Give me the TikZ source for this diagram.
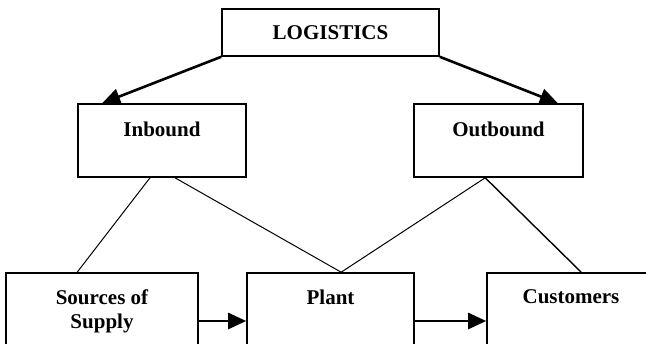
\documentclass[tikz,border=0pt]{standalone}
\usepackage{fontspec}
\setmainfont{Liberation Serif}
\usetikzlibrary{arrows.meta,calc}
\begin{document}
\begin{tikzpicture}[x=1pt,y=-1pt,
  box/.style={draw=black,line width=1.6pt,rectangle,inner sep=0pt},
  lbl/.style={inner sep=0pt,font=\fontsize{21}{26}\selectfont\bfseries},
  bigarrow/.style={line width=2.6pt,-{Triangle[length=18pt,width=16pt]}},
  thin/.style={line width=1pt}]
\useasboundingbox (0,0) rectangle (646,344);
\clip (0,0) rectangle (646,344);
\node[box,minimum width=217pt,minimum height=47pt] (log) at (330.5,32.5) {};
\node[box,minimum width=168pt,minimum height=73pt] (inb) at (162,140.5) {};
\node[box,minimum width=169pt,minimum height=73pt] (outb) at (498.5,140.5) {};
\node[box,minimum width=192pt,minimum height=100pt] (src) at (102,323) {};
\node[box,minimum width=167pt,minimum height=100pt] (plant) at (330.5,323) {};
\node[box,minimum width=168pt,minimum height=100pt] (cust) at (571,323) {};
\node[lbl] (tlog) at (330.5,33) {LOGISTICS};
\node[lbl] (tinb) at (162,129) {Inbound};
\node[lbl] (toutb) at (498.5,129) {Outbound};
\node[lbl] (tsrc1) at (102,297) {Sources of};
\node[lbl] (tsrc2) at (102,323) {Supply};
\node[lbl] (tplant) at (330.5,297) {Plant};
\node[lbl] (tcust) at (571,297) {Customers};
\coordinate (ia) at ($(inb.north west)+(25,0)$);
\coordinate (oa) at ($(outb.north east)+(-26,0)$);
\draw[bigarrow] (log.south west) -- (ia);
\draw[bigarrow] (log.south east) -- (oa);
\coordinate (ib1) at ($(inb.south)+(-12,0)$);
\coordinate (ib2) at ($(inb.south)+(13,0)$);
\coordinate (st) at ($(src.north west)+(72,0)$);
\coordinate (pt) at ($(plant.north west)+(95,0)$);
\coordinate (ob) at ($(outb.south west)+(72,0)$);
\coordinate (ct) at ($(cust.north west)+(95,0)$);
\draw[thin] (ib1) -- (st);
\draw[thin] (ib2) -- (pt);
\draw[thin] (ob) -- (pt);
\draw[line width=1.4pt] (ob) -- (ct);
\draw[bigarrow] ([yshift=2pt]src.east) -- ([yshift=2pt]plant.west);
\draw[bigarrow] ([yshift=2pt]plant.east) -- ([yshift=2pt]cust.west);
\end{tikzpicture}
\end{document}
